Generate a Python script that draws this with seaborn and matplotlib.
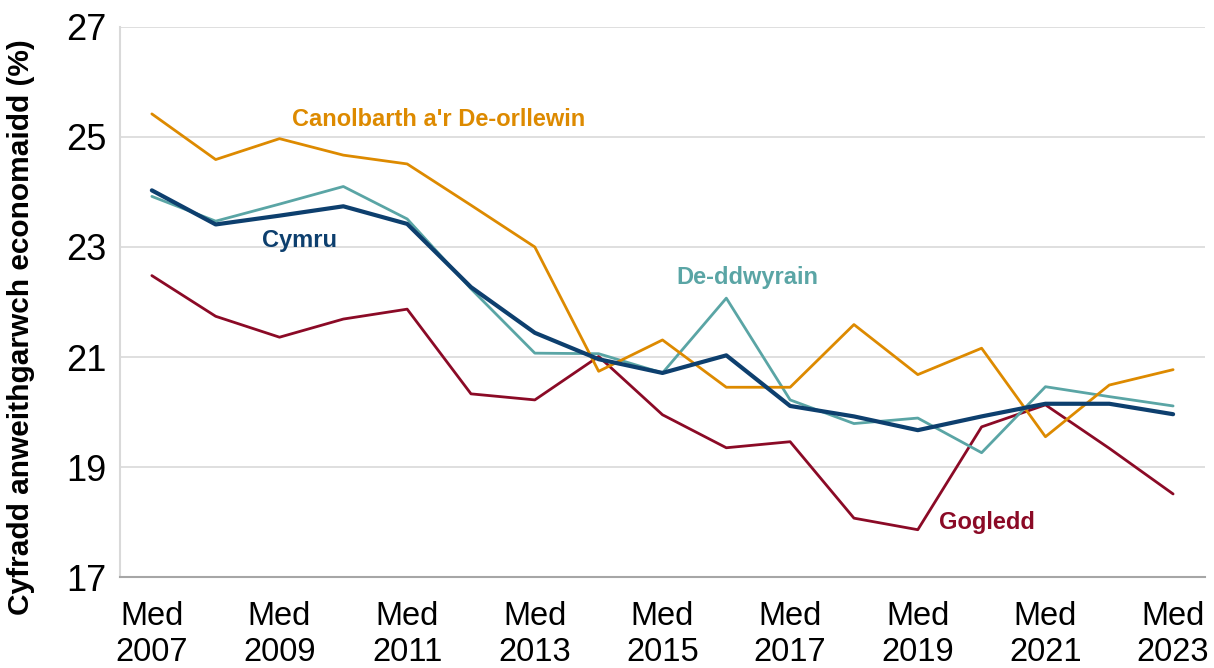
import numpy as np
import pandas as pd
import matplotlib
matplotlib.use('Agg')
import matplotlib.pyplot as plt
import seaborn as sns

# data (year ending September)
years = list(range(2007, 2024))
cymru = [24.03, 23.41, 23.57, 23.74, 23.42, 22.27, 21.44, 20.96, 20.71, 21.03,
         20.11, 19.92, 19.67, 19.92, 20.15, 20.15, 19.96]
canolbarth = [25.42, 24.59, 24.97, 24.67, 24.51, 23.76, 23.00, 20.74, 21.31, 20.45,
              20.45, 21.59, 20.68, 21.16, 19.55, 20.49, 20.77]
de_ddwyrain = [23.92, 23.47, 23.78, 24.10, 23.51, 22.24, 21.07, 21.06, 20.71, 22.07,
               20.22, 19.79, 19.89, 19.26, 20.46, 20.28, 20.11]
gogledd = [22.48, 21.74, 21.36, 21.69, 21.87, 20.33, 20.22, 21.01, 19.95, 19.35,
           19.46, 18.07, 17.86, 19.73, 20.13, 19.34, 18.51]

regions = ['Gogledd', 'De-ddwyrain', 'Canolbarth a\'r De-orllewin', 'Cymru']
colours = {'Gogledd': '#8B0A26', 'De-ddwyrain': '#5AA5A5',
           'Canolbarth a\'r De-orllewin': '#DD8A00', 'Cymru': '#0D3F6E'}
widths = {'Gogledd': 2.0, 'De-ddwyrain': 2.0,
          'Canolbarth a\'r De-orllewin': 2.0, 'Cymru': 3.0}
series = {'Gogledd': gogledd, 'De-ddwyrain': de_ddwyrain,
          'Canolbarth a\'r De-orllewin': canolbarth, 'Cymru': cymru}

df = pd.concat([pd.DataFrame({'blwyddyn': years, 'gwerth': series[r], 'rhanbarth': r})
                for r in regions], ignore_index=True)

yticks = [17, 19, 21, 23, 25, 27]
xticks = list(range(2007, 2024, 2))
xlabels = [f'Med\n{y}' for y in xticks]

# label positions (data coords)
labels = [
    ('Canolbarth a\'r De-orllewin', 2009.2, 25.31),
    ('Cymru', 2008.72, 23.11),
    ('De-ddwyrain', 2015.22, 22.44),
    ('Gogledd', 2019.33, 17.99),
]

sns.set_theme(style='white')
plt.rcParams['font.family'] = ['Liberation Sans', 'DejaVu Sans']

fig = plt.figure(figsize=(12.14, 6.68), dpi=100)
ax = fig.add_axes([0.0988, 0.1362, 0.8938, 0.8234])

for r in regions:
    sub = df[df['rhanbarth'] == r]
    sns.lineplot(data=sub, x='blwyddyn', y='gwerth', color=colours[r],
                 linewidth=widths[r], ax=ax, legend=False)

ax.set_xlim(2006.5, 2023.5)
ax.set_ylim(17, 27)
ax.set_yticks(yticks)
ax.set_yticklabels([str(t) for t in yticks], fontsize=26, color='#000000')
ax.set_xticks(xticks)
ax.set_xticklabels(xlabels, fontsize=23.5, color='#000000', linespacing=1.22)
ax.tick_params(axis='x', length=0, pad=17)
ax.tick_params(axis='y', length=0, pad=10)
ax.grid(axis='y', color='#D9D9D9', linewidth=1.2)
ax.set_axisbelow(True)

for s in ['top', 'right']:
    ax.spines[s].set_visible(False)
ax.spines['left'].set_color('#D9D9D9')
ax.spines['left'].set_linewidth(1.5)
ax.spines['bottom'].set_color('#A6A6A6')
ax.spines['bottom'].set_linewidth(1.5)

ax.set_xlabel('')
ax.set_ylabel('Cyfradd anweithgarwch economaidd (%)', fontsize=21.5,
              fontweight='bold', color='#000000')
ax.yaxis.set_label_coords(-0.078, 0.455)

for name, lx, ly in labels:
    ax.text(lx, ly, name, color=colours[name], fontsize=17, fontweight='bold',
            ha='left', va='center')

fig.savefig('out.png', dpi=100)
